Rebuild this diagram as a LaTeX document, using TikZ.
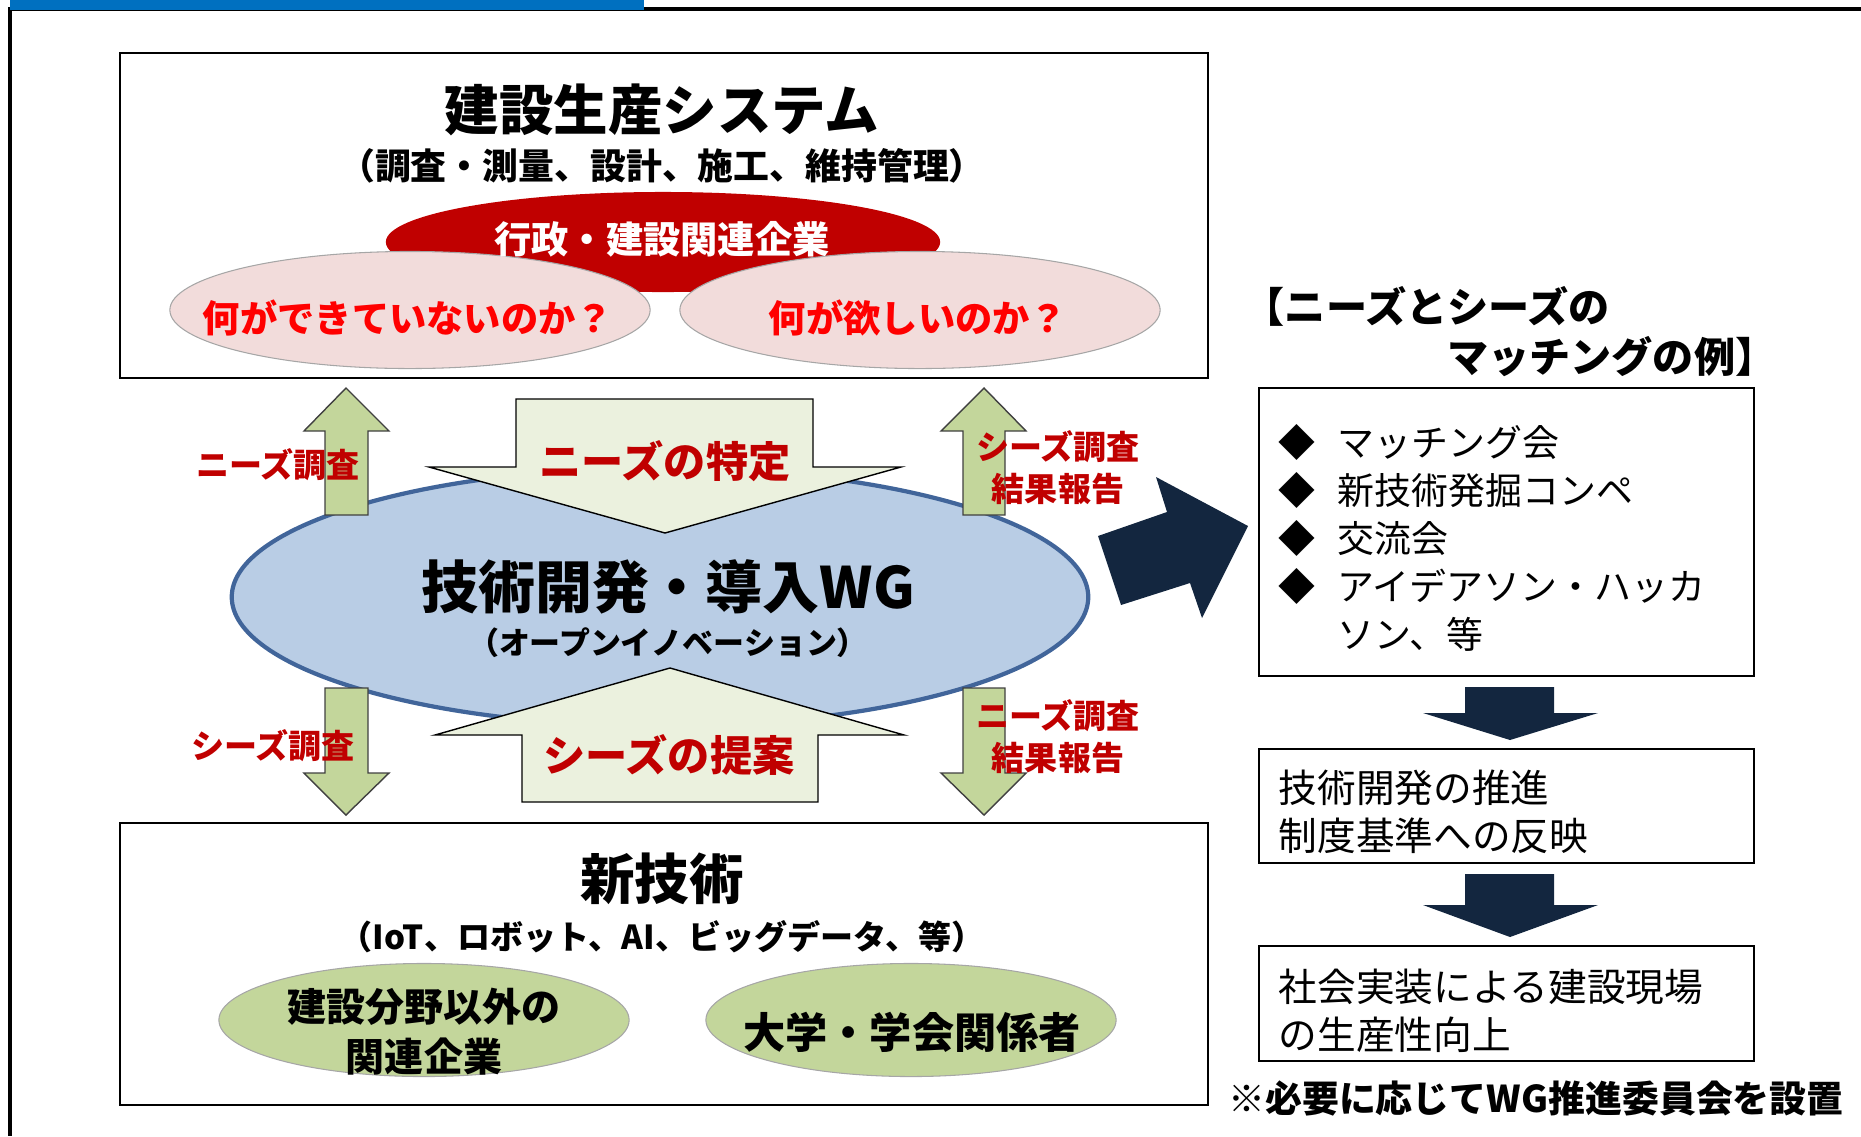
\documentclass[tikz,border=0pt]{standalone}
\usepackage{fontspec}
\setmainfont{Noto Sans CJK JP}[BoldFont={Noto Sans CJK JP Black}]
\usepackage{tikz}
\usetikzlibrary{
  positioning,
  shapes.geometric
}
\definecolor{hdblue}{HTML}{0070C0}
\definecolor{govred}{HTML}{C00000}
\definecolor{askred}{HTML}{FF0000}
\definecolor{askpink}{HTML}{F2DCDB}
\definecolor{wgfill}{HTML}{B9CDE5}
\definecolor{wgline}{HTML}{41659A}
\definecolor{palegrn}{HTML}{EBF1DE}
\definecolor{leafgrn}{HTML}{C3D69B}
\definecolor{navy}{HTML}{13263F}
\newcommand{\fsz}[2]{\fontsize{#1}{#2}\selectfont}

\begin{document}
\begin{tikzpicture}[
  x=0.01cm, y=-0.01cm,
  box/.style={draw, line width=0.6pt},
  txt/.style={inner sep=0pt},
  ttl/.style={txt, font=\bfseries\fsz{15.5}{18}},
  subttl/.style={txt, font=\bfseries\fsz{10.2}{12}},
  ovl/.style={ellipse, inner sep=0pt},
  pinkov/.style={ovl, fill=askpink, draw=gray!70, line width=0.3pt,
                 minimum width=4.8cm, minimum height=1.17cm},
  grnov/.style={ovl, fill=leafgrn, draw=gray!70, line width=0.3pt,
                minimum width=4.1cm, minimum height=1.13cm},
  asktxt/.style={txt, font=\bfseries\fsz{10.6}{12}, text=askred},
  redlbl/.style={txt, font=\bfseries\fsz{9.4}{12}, text=govred, align=center},
  bigarr/.style={draw=black, line width=0.4pt, fill=palegrn},
  smarr/.style={draw=black!75, line width=0.4pt, fill=leafgrn},
  navyarr/.style={fill=navy},
  note/.style={txt, font=\fsz{10.5}{13.7}, align=left},
]
  \useasboundingbox (0,0) rectangle (1861,1136);

  % Page frame
  \draw[line width=0.9pt] (1861,9) -- (10,9) -- (10,1136);
  \fill[hdblue] (10,0) rectangle (644,10);

  % Construction production system
  \draw[box] (120,53) rectangle (1208,378);
  \node[ttl] (systitle) at (662,110) {建設生産システム};
  \node[subttl, below=3pt of systitle] (syssub)
    {（調査・測量、設計、施工、維持管理）};
  \node[ovl, fill=govred, minimum width=5.54cm, minimum height=1.0cm]
    (gov) at (663,242) {};
  \node[pinkov] (cannot) at (410,310) {};
  \node[pinkov] (want) at (920,310) {};
  \node[txt, font=\bfseries\fsz{10.6}{12}, text=white] (govtxt) at (662,239)
    {行政・建設関連企業};
  \node[asktxt] (cannottxt) at (408,318) {何ができていないのか？};
  \node[asktxt] (wanttxt) at (918,318) {何が欲しいのか？};

  % WG
  \node[ovl, draw=wgline, line width=1.2pt, fill=wgfill,
        minimum width=8.56cm, minimum height=2.58cm] (wg) at (660,597) {};
  \filldraw[bigarr] (516,399) -- (813,399) -- (813,467) -- (901,467)
    -- (665,533) -- (429,467) -- (516,467) -- cycle;
  \filldraw[bigarr] (670,668) -- (904,735) -- (818,735) -- (818,802)
    -- (522,802) -- (522,735) -- (435,735) -- cycle;
  \node[txt, font=\bfseries\fsz{16.2}{19}] (wgtitle) at (668,587)
    {技術開発・導入WG};
  \node[subttl, font=\bfseries\fsz{8.8}{11}, below=3.5pt of wgtitle] (wgsub)
    {（オープンイノベーション）};
  \node[txt, font=\bfseries\fsz{12}{14}, text=govred] (needs) at (665,461)
    {ニーズの特定};
  \node[txt, font=\bfseries\fsz{12}{14}, text=govred] (seeds) at (669,755)
    {シーズの提案};

  % Survey arrows
  \filldraw[smarr] (346,388) -- (389,431) -- (368,431) -- (368,515)
    -- (325,515) -- (325,431) -- (304,431) -- cycle;
  \filldraw[smarr] (984,388) -- (1026,431) -- (1005,431) -- (1005,515)
    -- (963,515) -- (963,431) -- (941,431) -- cycle;
  \filldraw[smarr] (325,688) -- (368,688) -- (368,773) -- (389,773)
    -- (346,815) -- (304,773) -- (325,773) -- cycle;
  \filldraw[smarr] (963,688) -- (1005,688) -- (1005,773) -- (1026,773)
    -- (984,815) -- (941,773) -- (963,773) -- cycle;
  \node[redlbl] (needsurv) at (278,465) {ニーズ調査};
  \node[redlbl] (seedsurv) at (273,746) {シーズ調査};
  \node[redlbl, font=\bfseries\fsz{9.4}{11.9}] (seedrep) at (1058,468)
    {シーズ調査\\結果報告};
  \node[redlbl, font=\bfseries\fsz{9.4}{11.9}] (needrep) at (1058,737)
    {ニーズ調査\\結果報告};

  % New technology
  \draw[box] (120,823) rectangle (1208,1105);
  \node[ttl] (newtech) at (662,879) {新技術};
  \node[subttl, font=\bfseries\fsz{9.4}{12}, below=4pt of newtech] (techsub)
    {（IoT、ロボット、AI、ビッグデータ、等）};
  \node[grnov] (others) at (424,1020) {};
  \node[grnov] (univ) at (911,1020) {};
  \node[txt, align=center, font=\bfseries\fsz{11.1}{14.2}] (otherstxt)
    at (424,1032) {建設分野以外の\\関連企業};
  \node[txt, font=\bfseries\fsz{12}{14}] (univtxt) at (912,1032)
    {大学・学会関係者};

  % Matching
  \fill[navyarr] (1098,536) -- (1167,512) -- (1156,477) -- (1248,526)
    -- (1202,618) -- (1190,583) -- (1121,605) -- cycle;
  \node[txt, font=\bfseries\fsz{11.7}{13}, anchor=west] (hd1) at (1243,306)
    {【ニーズとシーズの};
  \node[txt, font=\bfseries\fsz{11.7}{13}, anchor=east] (hd2) at (1777,357)
    {マッチングの例】};
  \draw[box] (1259,388) rectangle (1754,676);
  \node[note, anchor=west] (items) at (1278,538)
    {◆\hspace{0.6em}マッチング会\\
     ◆\hspace{0.6em}新技術発掘コンペ\\
     ◆\hspace{0.6em}交流会\\
     ◆\hspace{0.6em}アイデアソン・ハッカ\\
     \hspace{1.6em}ソン、等};
  \fill[navyarr] (1465,687) -- (1554,687) -- (1554,713) -- (1598,713)
    -- (1510,740) -- (1423,713) -- (1465,713) -- cycle;
  \draw[box] (1259,749) rectangle (1754,863);
  \node[note, font=\fsz{11}{13.7}, anchor=west] (promote) at (1278,812)
    {技術開発の推進\\制度基準への反映};
  \fill[navyarr] (1465,874) -- (1554,874) -- (1554,905) -- (1598,905)
    -- (1510,937) -- (1423,905) -- (1465,905) -- cycle;
  \draw[box] (1259,946) rectangle (1754,1061);
  \node[note, font=\fsz{11}{13.5}, anchor=west] (impl) at (1278,1011)
    {社会実装による建設現場\\の生産性向上};
  \node[txt, font=\bfseries\fsz{10.5}{12}] (wgnote) at (1536,1098)
    {※必要に応じてWG推進委員会を設置};

\end{tikzpicture}
\end{document}
